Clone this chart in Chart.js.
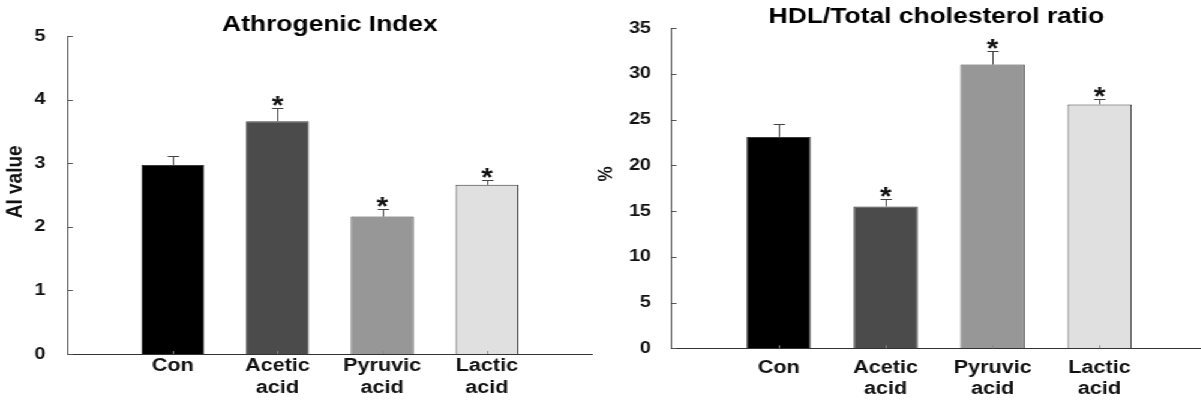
<!DOCTYPE html>
<html><head><meta charset="utf-8">
<script src="https://cdn.jsdelivr.net/npm/chart.js@4.4.0/dist/chart.umd.min.js"></script>
<style>
html,body{margin:0;padding:0;background:#fff;overflow:hidden;width:1201px;height:401px;}
#wrap{position:absolute;left:0;top:0;width:1001px;height:401px;transform:scaleX(1.2);transform-origin:0 0;}
#c1{position:absolute;left:0;top:0;}
#c2{position:absolute;left:495px;top:0;}
</style></head><body>
<div id="wrap"><canvas id="c1" width="500" height="401"></canvas><canvas id="c2" width="506" height="401"></canvas></div>
<script>
// ---- data ----
const categories = ['Con', 'Acetic acid', 'Pyruvic acid', 'Lactic acid'];

const aiTitle = 'Athrogenic Index';
const aiValues = [2.97, 3.66, 2.16, 2.66];
const aiErrors = [0.15, 0.21, 0.12, 0.07];
const aiSignificant = [false, true, true, true];
const aiTicks = [0, 1, 2, 3, 4, 5];

const hdlTitle = 'HDL/Total cholesterol ratio';
const hdlValues = [23.1, 15.5, 31.0, 26.65];
const hdlErrors = [1.4, 0.8, 1.45, 0.55];
const hdlSignificant = [false, true, true, true];
const hdlTicks = [0, 5, 10, 15, 20, 25, 30, 35];

const barColors = ['#000000', '#4b4b4b', '#979797', '#e0e0e0'];
const FONT = '"Liberation Sans", Arial, sans-serif';

// ---- decorations: inward ticks, error bars, significance marks ----
const decor = {
  id: 'decor',
  afterDatasetsDraw(chart) {
    const ctx = chart.ctx;
    const xs = chart.scales.x, ys = chart.scales.y;
    const ds = chart.data.datasets[0];
    const meta = chart.getDatasetMeta(0);
    ctx.save();
    ctx.lineWidth = 1;
    ctx.strokeStyle = '#555';
    ys.ticks.forEach(t => {
      const py = Math.round(ys.getPixelForValue(t.value)) + 0.5;
      ctx.beginPath(); ctx.moveTo(xs.left, py); ctx.lineTo(xs.left + 4, py); ctx.stroke();
    });
    ctx.strokeStyle = '#888';
    meta.data.forEach(bar => {
      const px = Math.round(bar.x) + 0.5;
      ctx.beginPath(); ctx.moveTo(px, ys.bottom); ctx.lineTo(px, ys.bottom - 3); ctx.stroke();
    });
    meta.data.forEach((bar, i) => {
      const px = Math.round(bar.x) + 0.5;
      const base = ys.getPixelForValue(ds.values[i]);
      const top = Math.round(ys.getPixelForValue(ds.values[i] + ds.errors[i])) + 0.5;
      ctx.strokeStyle = '#444';
      ctx.beginPath(); ctx.moveTo(px, base); ctx.lineTo(px, top); ctx.stroke();
      ctx.beginPath(); ctx.moveTo(px - 4.75, top); ctx.lineTo(px + 4.75, top); ctx.stroke();
      if (ds.sig[i]) {
        ctx.fillStyle = '#111';
        ctx.font = 'bold 25px ' + FONT;
        ctx.textAlign = 'center';
        ctx.textBaseline = 'alphabetic';
        ctx.fillText('*', bar.x, top + 5.5);
      }
    });
    ctx.restore();
  }
};

function makeChart(el, p) {
  return new Chart(el, {
    type: 'bar',
    data: {
      datasets: [{
        data: p.values.map((v, i) => ({ x: i + 1, y: v })),
        values: p.values, errors: p.errors, sig: p.sig,
        backgroundColor: barColors,
        borderColor: '#3a3a3a',
        borderWidth: 1,
        barPercentage: 0.6,
        categoryPercentage: 1
      }]
    },
    options: {
      responsive: false,
      animation: false,
      devicePixelRatio: 1,
      layout: { padding: { left: 0, right: p.padRight, top: 0, bottom: 0 }, autoPadding: false },
      plugins: {
        legend: { display: false },
        tooltip: { enabled: false },
        title: {
          display: true, text: p.title, fullSize: false, color: '#000',
          font: { family: FONT, size: 22, weight: 'bold', lineHeight: 1 },
          padding: { top: p.titleTop, bottom: 0 }
        }
      },
      scales: {
        x: {
          type: 'linear', min: 0, max: p.xMax, offset: false,
          grid: { display: false },
          border: { display: true, color: '#333', width: 1 },
          ticks: {
            includeBounds: false, stepSize: 1, autoSkip: false, maxRotation: 0, minRotation: 0,
            padding: p.xPad, color: '#111',
            font: { family: FONT, size: 18, weight: 'bold', lineHeight: 1.2 },
            callback: v => (Number.isInteger(v) && v >= 1 && v <= categories.length) ? categories[v - 1].split(' ') : ''
          },
          afterFit: s => { s.height = p.xHeight; }
        },
        y: {
          min: 0, max: p.yMax,
          grid: { display: false },
          border: { display: true, color: '#4a4a4a', width: 1 },
          afterBuildTicks: s => { s.ticks = p.ticks.map(v => ({ value: v })); },
          ticks: { padding: p.yPad, color: '#111', font: { family: FONT, size: 16.5, weight: 'bold' } },
          title: {
            display: true, text: p.yTitle, color: '#111',
            font: { family: FONT, size: p.yTitleSize, weight: 'bold', lineHeight: 1.2 },
            padding: { top: p.yTitlePad, bottom: 0 }
          },
          afterFit: s => { s.width = p.yWidth; }
        }
      }
    },
    plugins: [decor]
  });
}

makeChart(document.getElementById('c1'), {
  title: aiTitle, values: aiValues, errors: aiErrors, sig: aiSignificant, ticks: aiTicks,
  yMax: 5, xMax: 5, padRight: 6.9, titleTop: 14, xHeight: 47, xPad: -6.5,
  yWidth: 56.7, yPad: 10.8, yTitle: '     AI value', yTitleSize: 19, yTitlePad: 1.5
});

makeChart(document.getElementById('c2'), {
  title: hdlTitle, values: hdlValues, errors: hdlErrors, sig: hdlSignificant, ticks: hdlTicks,
  yMax: 35, xMax: 4.95, padRight: 0, titleTop: 6, xHeight: 52.7, xPad: 0.5,
  yWidth: 64.75, yPad: 9.2, yTitle: '      %', yTitleSize: 17, yTitlePad: 0.2
});
</script>
</body></html>
